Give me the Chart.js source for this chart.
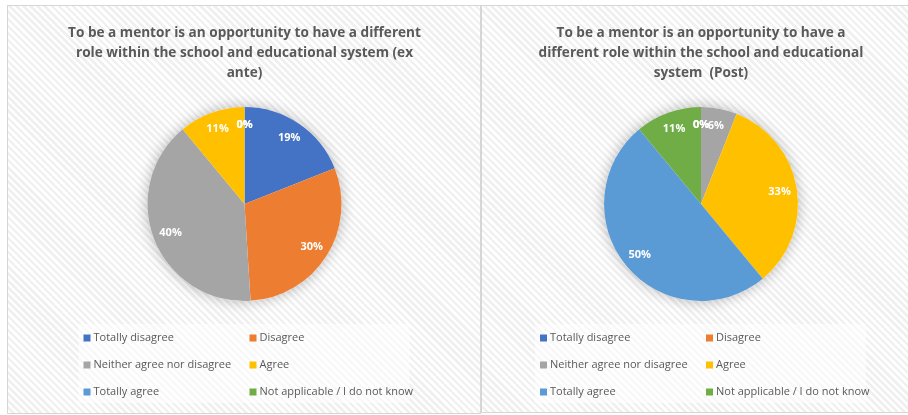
<!DOCTYPE html>
<html>
<head>
<meta charset="utf-8">
<script src="https://cdn.jsdelivr.net/npm/chart.js@4"></script>
<style>
  html, body { margin: 0; padding: 0; background: #fff; overflow: hidden; }
  body { width: 908px; height: 415px; position: relative; }
  .panel {
    position: absolute;
    box-sizing: border-box;
    border: 1px solid #d6d6d6;
    background: repeating-linear-gradient(45deg, #ffffff 0 2.5px, #f0f0f0 2.5px 5px);
  }
  #leftPanel { left: 7px; top: 5px; width: 474px; height: 409px; }
  #rightPanel { left: 480px; top: 5px; width: 440px; height: 408px; border-left-width: 2px; }
  canvas { position: absolute; left: 0; top: 0; }
</style>
</head>
<body>
<div class="panel" id="leftPanel"><canvas id="exAnteChart"></canvas></div>
<div class="panel" id="rightPanel"><canvas id="postChart"></canvas></div>

<script>
const categories = [
  'Totally disagree',
  'Disagree',
  'Neither agree nor disagree',
  'Agree',
  'Totally agree',
  'Not applicable / I do not know'
];
const exAnteValues = [19, 30, 40, 11, 0, 0];
const postValues = [0, 0, 6, 33, 50, 11];

const exAnteTitle = [
  'To be a mentor is an opportunity to have a different',
  'role within the school and educational system (ex',
  'ante)'
];
const postTitle = [
  'To be a mentor is an opportunity to have a',
  'different role within the school and educational',
  'system  (Post)'
];

const sliceColors = ['#4472C4', '#ED7D31', '#A5A5A5', '#FFC000', '#5B9BD5', '#70AD47'];
const FONT = "'Open Sans', 'Noto Sans', sans-serif";

// soft grey glow behind the pie
const pieShadow = {
  id: 'pieShadow',
  beforeDatasetsDraw(chart) {
    const arc = chart.getDatasetMeta(0).data[0];
    if (!arc) return;
    const ctx = chart.ctx;
    ctx.save();
    ctx.shadowColor = 'rgba(0,0,0,0.28)';
    ctx.shadowBlur = 14;
    ctx.fillStyle = '#ffffff';
    ctx.beginPath();
    ctx.arc(arc.x, arc.y, arc.outerRadius, 0, Math.PI * 2);
    ctx.fill();
    ctx.restore();
  }
};

// percentage labels inside each slice
const sliceLabels = {
  id: 'sliceLabels',
  afterDatasetsDraw(chart) {
    const ctx = chart.ctx;
    const values = chart.data.datasets[0].data;
    const total = values.reduce((a, b) => a + b, 0);
    ctx.save();
    ctx.font = 'bold 11px ' + FONT;
    ctx.fillStyle = '#ffffff';
    ctx.textAlign = 'center';
    ctx.textBaseline = 'middle';
    chart.getDatasetMeta(0).data.forEach((arc, i) => {
      const mid = (arc.startAngle + arc.endAngle) / 2;
      const r = arc.outerRadius * 0.82;
      const pct = Math.round(values[i] / total * 100) + '%';
      ctx.fillText(pct, arc.x + Math.cos(mid) * r, arc.y + Math.sin(mid) * r);
    });
    ctx.restore();
  }
};

// two-column legend under the pie
const gridLegend = {
  id: 'gridLegend',
  afterDraw(chart) {
    const arc = chart.getDatasetMeta(0).data[0];
    const ctx = chart.ctx;
    const cx = arc.x, cy = arc.y;
    ctx.save();
    ctx.fillStyle = 'rgba(255,255,255,0.55)';
    ctx.fillRect(cx - 166, cy + 120, 331, 79);
    ctx.font = '11px ' + FONT;
    ctx.textBaseline = 'middle';
    ctx.textAlign = 'left';
    chart.data.labels.forEach((label, i) => {
      const col = i % 2, row = Math.floor(i / 2);
      const x = col === 0 ? cx - 161 : cx + 5;
      const y = cy + 134 + row * 27;
      ctx.fillStyle = sliceColors[i];
      ctx.fillRect(x, y - 3.5, 7, 7);
      ctx.fillStyle = '#595959';
      ctx.fillText(label, x + 10, y);
    });
    ctx.restore();
  }
};

function makePie(canvasId, titleLines, values, width) {
  const canvas = document.getElementById(canvasId);
  canvas.width = width;
  canvas.height = 408;
  canvas.style.width = width + 'px';
  canvas.style.height = '408px';
  return new Chart(canvas.getContext('2d'), {
    type: 'pie',
    data: {
      labels: categories,
      datasets: [{
        data: values,
        backgroundColor: sliceColors,
        borderWidth: 0,
        hoverBorderWidth: 0
      }]
    },
    options: {
      responsive: false,
      animation: false,
      events: [],
      layout: { padding: { top: 0, bottom: 113, left: 0, right: 0 } },
      plugins: {
        legend: { display: false },
        tooltip: { enabled: false },
        title: {
          display: true,
          text: titleLines,
          color: '#595959',
          font: { family: FONT, size: 13.6, weight: 'bold', lineHeight: 20 / 13.6 },
          padding: { top: 17, bottom: 24 }
        }
      }
    },
    plugins: [pieShadow, sliceLabels, gridLegend]
  });
}

makePie('exAnteChart', exAnteTitle, exAnteValues, 473);
makePie('postChart', postTitle, postValues, 438);
</script>
</body>
</html>
